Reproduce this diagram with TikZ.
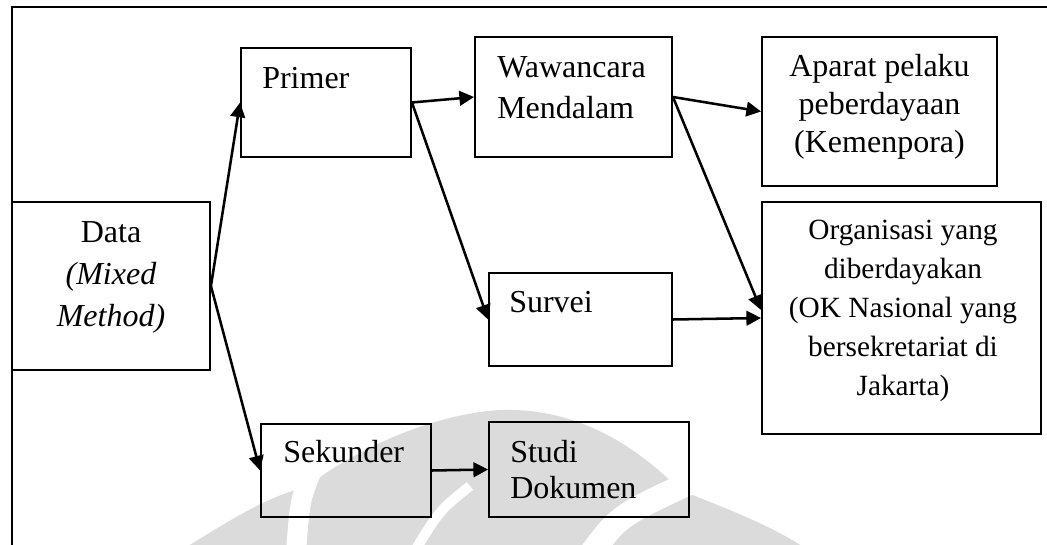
\documentclass[tikz,border=0pt]{standalone}
\usepackage{fontspec}
\setmainfont{Liberation Serif}
\usetikzlibrary{arrows.meta,calc}
\definecolor{wmgray}{gray}{0.86}
% strut that fixes the height of a first text line
\newcommand\firstln{\rule{0pt}{20pt}}
\begin{document}
\begin{tikzpicture}[x=0.75pt,y=-0.75pt,
  box/.style 2 args={draw,line width=1.4pt,minimum width=#1*0.75pt,minimum height=#2*0.75pt,inner sep=0pt},
  txt/.style={inner sep=0pt,align=#1},
  txt/.default=left,
  arr/.style={line width=1.9pt,-{Triangle[length=11pt,width=11pt]}},
  frame/.style={line width=1.4pt}]
\useasboundingbox (0,0) rectangle (1047,545);

% faint emblem in the background: a dome cut by three slits
\begin{scope}
  \clip (0,0) rectangle (1047,545);
  \fill[wmgray] (185,548) .. controls (230,520) and (270,495) .. (307,487)
    .. controls (340,460) and (420,415) .. (500,410)
    .. controls (560,408) and (620,430) .. (680,490)
    .. controls (730,510) and (770,525) .. (805,548) -- cycle;
  \draw[white,line width=15pt] (312,470) .. controls (300,500) .. (296,552);
  \draw[white,line width=7.5pt] (470,486) .. controls (440,510) .. (414,552);
  \draw[white,line width=18pt] (592,552) .. controls (620,515) .. (700,478);
\end{scope}

% outer frame (top and left edges)
\coordinate (fl) at (12,545);
\coordinate (ft) at (12,7);
\coordinate (fr) at (1047,7);
\draw[frame] (fl) -- (ft) -- (fr);

% boxes
\node[box={198}{168}] (data)     at (111,286)   {};
\node[box={170}{109}] (primer)   at (326,102.5) {};
\node[box={197}{120}] (waw)      at (573.5,97)  {};
\node[box={235}{149}] (aparat)   at (879.5,111.5) {};
\node[box={279}{232}] (org)      at (901.5,318) {};
\node[box={183}{93}]  (survei)   at (580.5,319.5) {};
\node[box={170}{93}]  (sekunder) at (346,470.5) {};
\node[box={200}{95}]  (studi)    at (589,469.5) {};

% labels
\node[txt=center,anchor=north,font=\fontsize{24}{31.5}\selectfont] (datat) at (111,215.3)
  {\firstln Data\\\textit{(Mixed}\\\textit{Method)}};
\node[txt,anchor=base west,font=\fontsize{24}{30}\selectfont] (primert) at (262,89) {Primer};
\node[txt,anchor=north west,font=\fontsize{24}{30.75}\selectfont] (wawt) at (497,50.3)
  {\firstln Wawancara\\Mendalam};
\node[txt=center,anchor=north,font=\fontsize{24}{28.5}\selectfont] (aparatt) at (879.5,49.3)
  {\firstln Aparat pelaku\\peberdayaan\\(Kemenpora)};
\node[txt=center,anchor=north,font=\fontsize{22}{29.2}\selectfont] (orgt) at (903,212.6)
  {\firstln Organisasi yang\\diberdayakan\\(OK Nasional yang\\bersekretariat di\\Jakarta)};
\node[txt,anchor=base west,font=\fontsize{24}{30}\selectfont] (surveit) at (509,313) {Survei};
\node[txt,anchor=base west,font=\fontsize{24}{30}\selectfont] (sekundert) at (283,463) {Sekunder};
\node[txt,anchor=north west,font=\fontsize{24}{27}\selectfont] (studit) at (510,435.3)
  {\firstln Studi\\Dokumen};

% connectors
\draw[arr] (data.east) -- (primer.west);
\draw[arr] (data.east) -- (sekunder.west);
\draw[arr] (primer.east) -- (waw.west);
\draw[arr] (primer.east) -- (survei.west);
\draw[arr] (waw.east) -- (aparat.west);
\draw[arr] (waw.east) -- ($(org.west)+(0,-8)$);
\draw[arr] (survei.east) -- (org.west);
\draw[arr] (sekunder.east) -- (studi.west);
\end{tikzpicture}
\end{document}
